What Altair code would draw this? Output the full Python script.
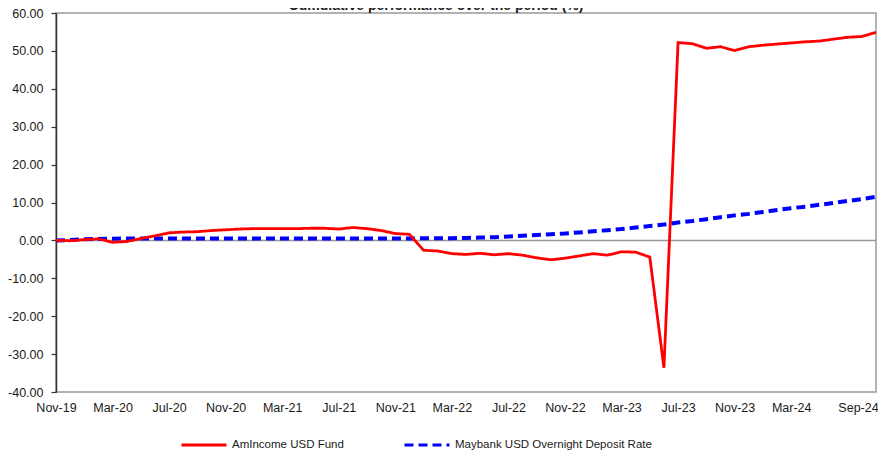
import altair as alt
import pandas as pd

TITLE = "Cumulative performance over the period (%)"
FUND = "AmIncome USD Fund"
DEPOSIT = "Maybank USD Overnight Deposit Rate"

# Monthly points, Nov-19 .. Sep-24
months = list(pd.date_range("2019-11-01", periods=59, freq="MS").strftime("%b-%y"))

fund_values = [
    0.0, -0.1, 0.2, 0.4, -0.5, -0.3, 0.5, 1.2, 2.0, 2.2,
    2.3, 2.6, 2.8, 3.0, 3.1, 3.1, 3.1, 3.1, 3.2, 3.2,
    3.0, 3.4, 3.1, 2.6, 1.8, 1.6, -2.6, -2.8, -3.5, -3.7,
    -3.4, -3.8, -3.5, -3.9, -4.6, -5.1, -4.7, -4.1, -3.5, -3.9,
    -3.0, -3.1, -4.4, -33.6, 52.2, 51.9, 50.7, 51.1, 50.1, 51.1,
    51.5, 51.8, 52.1, 52.4, 52.6, 53.1, 53.6, 53.8, 54.9,
]

deposit_values = [
    0.0, 0.1, 0.3, 0.4, 0.45, 0.5, 0.5, 0.5, 0.5, 0.5,
    0.5, 0.5, 0.5, 0.5, 0.5, 0.5, 0.5, 0.5, 0.5, 0.5,
    0.5, 0.5, 0.5, 0.5, 0.5, 0.5, 0.55, 0.55, 0.6, 0.65,
    0.75, 0.85, 1.0, 1.2, 1.4, 1.6, 1.8, 2.1, 2.4, 2.7,
    3.0, 3.4, 3.8, 4.2, 4.7, 5.1, 5.6, 6.1, 6.6, 7.0,
    7.5, 8.0, 8.5, 8.9, 9.4, 9.9, 10.4, 10.9, 11.5,
]

x_ticks = [0, 4, 8, 12, 16, 20, 24, 28, 32, 36, 40, 44, 48, 52, 58]
y_ticks = [-40, -30, -20, -10, 0, 10, 20, 30, 40, 50, 60]

rows = []
for i, m in enumerate(months):
    rows.append({"idx": i, "month": m, "series": FUND, "value": fund_values[i]})
    rows.append({"idx": i, "month": m, "series": DEPOSIT, "value": deposit_values[i]})
df = pd.DataFrame(rows)

label_array = "[" + ",".join(f"'{m}'" for m in months) + "]"

FONT = "Liberation Sans"
TXT = "#1a1a1a"

x_enc = alt.X(
    "idx:Q",
    scale=alt.Scale(domain=[0, len(months) - 1], nice=False, zero=False),
    axis=alt.Axis(
        values=x_ticks,
        labelExpr=label_array + "[datum.value]",
        grid=False,
        ticks=False,
        domain=False,
        title=None,
        labelPadding=9,
        labelFlush=False,
        labelOverlap=False,
        labelOffset={"condition": {"test": "datum.value == 58", "value": -18}, "value": 0},
    ),
)
y_axis = alt.Axis(
    values=y_ticks,
    labelExpr="(datum.value < 0 ? '-' : '') + format(abs(datum.value), '.2f')",
    grid=False,
    tickSize=5,
    tickColor="#333333",
    tickWidth=1.2,
    domainColor="#333333",
    domainWidth=1.5,
    labelPadding=8,
    labelOverlap=False,
    labelFlush=False,
    title=None,
)
y_scale = alt.Scale(domain=[-40, 60], nice=False, zero=False)
y_enc = alt.Y("value:Q", scale=y_scale, axis=y_axis)

legend = alt.Legend(
    title=None,
    orient="none",
    legendX=124,
    legendY=408,
    direction="horizontal",
    symbolType="stroke",
    symbolSize=2025,
    symbolStrokeWidth=3,
    labelFontSize=11.5,
    labelFont=FONT,
    labelColor=TXT,
    labelOffset=4,
    labelLimit=400,
    columnPadding=54,
)

color_enc = alt.Color(
    "series:N",
    scale=alt.Scale(domain=[FUND, DEPOSIT], range=["#ff0000", "#0000ff"]),
    legend=legend,
)
dash_enc = alt.StrokeDash(
    "series:N",
    scale=alt.Scale(domain=[FUND, DEPOSIT], range=[[1, 0], [9, 5]]),
    legend=legend,
)

base = alt.Chart(df)

zero_rule = alt.Chart(pd.DataFrame({"value": [0]})).mark_rule(
    color="#999999", strokeWidth=1.5
).encode(y=y_enc)

deposit_line = base.transform_filter(alt.datum.series == DEPOSIT).mark_line(
    strokeWidth=4
).encode(x=x_enc, y=y_enc, color=color_enc, strokeDash=dash_enc, order="idx:Q")

fund_line = base.transform_filter(alt.datum.series == FUND).mark_line(
    strokeWidth=2.8
).encode(x=x_enc, y=y_enc, color=color_enc, strokeDash=dash_enc, order="idx:Q")

title_text = alt.Chart(pd.DataFrame({"t": [TITLE]})).mark_text(
    font=FONT, fontSize=14, fontWeight="bold", color=TXT,
    align="center", baseline="alphabetic",
).encode(x=alt.value(380), y=alt.value(-3), text="t:N")

chart = (
    alt.layer(zero_rule, deposit_line, fund_line, title_text)
    .properties(
        width=820,
        height=379,
        autosize=alt.AutoSizeParams(type="none"),
        padding={"left": 48, "top": 5, "right": 2, "bottom": 63},
    )
    .configure(font=FONT)
    .configure_view(stroke="#999999", strokeWidth=1.5)
    .configure_axis(labelFont=FONT, labelFontSize=12.5, labelColor=TXT)
)

chart.save("out.html", embed_options={"renderer": "svg", "actions": False})
